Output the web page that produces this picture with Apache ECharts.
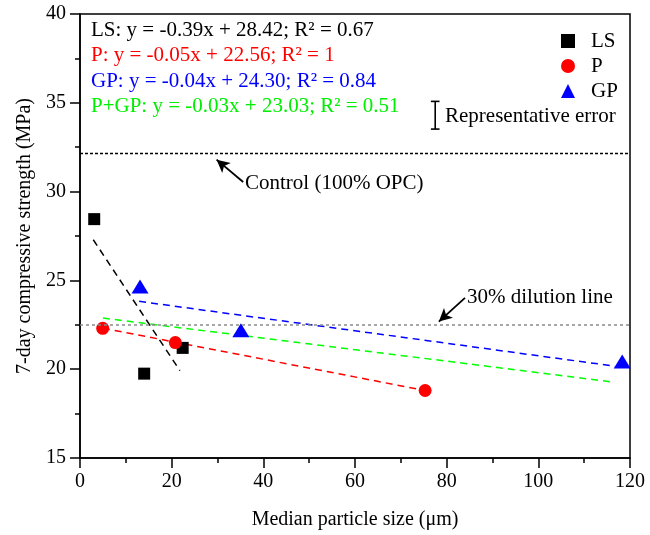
<!DOCTYPE html>
<html>
<head>
<meta charset="utf-8">
<script src="https://cdn.jsdelivr.net/npm/echarts@6/dist/echarts.min.js"></script>
<style>
  html, body { margin: 0; padding: 0; background: #fff; }
  #chart { width: 650px; height: 535px; }
</style>
</head>
<body>
<div id="chart"></div>
<script>
// Measured 7-day strengths vs. median particle size
const lsX = [3.1, 14.0, 22.4];
const lsY = [28.45, 19.75, 21.2];
const pX = [4.95, 20.8, 75.3];
const pY = [22.3, 21.5, 18.8];
const gpX = [13.1, 35.1, 118.3];
const gpY = [24.65, 22.2, 20.43];

// Linear-fit segments (start/end of each fitted range)
const lsFitX = [2.9, 21.8];
const lsFitY = [27.29, 19.92];
const pFitX = [5.0, 75.3];
const pFitY = [22.31, 18.80];
const gpFitX = [12.9, 116.7];
const gpFitY = [23.82, 20.17];
const pgpFitX = [5.0, 115.6];
const pgpFitY = [22.88, 19.30];

// Reference levels
const controlY = 32.15;   // 100% OPC
const dilutionY = 22.5;   // 30% dilution

// Representative error bar: x, centre, half-range
const errBar = [77.5, 34.3, 0.78];

// Fit equations
const eqTexts = [
  'LS: y = -0.39x + 28.42; R\u00B2 = 0.67',
  'P: y = -0.05x + 22.56; R\u00B2 = 1',
  'GP: y = -0.04x + 24.30; R\u00B2 = 0.84',
  'P+GP: y = -0.03x + 23.03; R\u00B2 = 0.51'
];
const eqColors = ['#000000', '#ff0000', '#0000ff', '#00ee00'];

const FONT = '"Liberation Serif", "Times New Roman", serif';

const zip = (xs, ys) => xs.map((x, i) => [x, ys[i]]);

const chart = echarts.init(document.getElementById('chart'), null, { renderer: 'canvas' });

function fitSeries(name, xs, ys, color) {
  return {
    name: name,
    type: 'line',
    data: zip(xs, ys),
    showSymbol: false,
    symbol: 'none',
    silent: true,
    z: 2,
    lineStyle: { color: color, width: 1.5, type: [7, 5] }
  };
}

const option = {
  backgroundColor: '#ffffff',
  animation: false,
  textStyle: { fontFamily: FONT },
  grid: {
    left: 80, right: 20, top: 14, bottom: 76,
    show: true, borderColor: '#000', borderWidth: 1.5, backgroundColor: 'transparent'
  },
  legend: {
    data: [
      { name: 'LS', icon: 'rect' },
      { name: 'P', icon: 'circle' },
      { name: 'GP', icon: 'triangle' }
    ],
    orient: 'vertical',
    left: 556,
    top: 25.5,
    itemWidth: 14,
    itemHeight: 14,
    itemGap: 4,
    textStyle: { fontFamily: FONT, fontSize: 21, color: '#000', padding: [0, 0, 0, 11], lineHeight: 21 }
  },
  xAxis: {
    type: 'value',
    min: 0, max: 120, interval: 20,
    name: 'Median particle size (\u03BCm)',
    nameLocation: 'middle',
    nameGap: 52,
    nameTextStyle: { fontFamily: FONT, fontSize: 20, color: '#000' },
    axisLine: { show: true, lineStyle: { color: '#000', width: 1.5 } },
    axisTick: { show: true, inside: false, length: 10, lineStyle: { color: '#000', width: 1.5 } },
    minorTick: { show: true, splitNumber: 2, length: 5, lineStyle: { color: '#000', width: 1.5 } },
    axisLabel: { fontFamily: FONT, fontSize: 20, color: '#000', margin: 14 },
    splitLine: { show: false }
  },
  yAxis: {
    type: 'value',
    min: 15, max: 40, interval: 5,
    name: '7-day compressive strength (MPa)',
    nameLocation: 'middle',
    nameGap: 45,
    nameTextStyle: { fontFamily: FONT, fontSize: 20, color: '#000' },
    axisLine: { show: true, lineStyle: { color: '#000', width: 1.5 } },
    axisTick: { show: true, inside: false, length: 10, lineStyle: { color: '#000', width: 1.5 } },
    minorTick: { show: true, splitNumber: 2, length: 5, lineStyle: { color: '#000', width: 1.5 } },
    axisLabel: { fontFamily: FONT, fontSize: 20, color: '#000', margin: 14 },
    splitLine: { show: false }
  },
  series: [
    // reference levels
    {
      name: 'reference',
      type: 'line',
      data: [],
      silent: true,
      z: 1,
      markLine: {
        silent: true,
        symbol: ['none', 'none'],
        label: { show: false },
        data: [
          { yAxis: controlY, lineStyle: { color: '#000', width: 1.3, type: [3, 2] } },
          { yAxis: dilutionY, lineStyle: { color: '#8a8a8a', width: 1.5, type: [3, 3] } }
        ]
      }
    },
    // annotation arrows
    {
      name: 'arrows',
      type: 'line',
      data: [],
      silent: true,
      z: 5,
      markLine: {
        silent: true,
        symbol: ['none', 'arrow'],
        symbolSize: [10, 13],
        label: { show: false },
        lineStyle: { color: '#000', width: 1.8, type: 'solid' },
        data: [
          [{ coord: [35.6, 30.54] }, { coord: [29.8, 31.8] }],
          [{ coord: [84.0, 24.02] }, { coord: [78.3, 22.68] }]
        ]
      }
    },
    fitSeries('LS fit', lsFitX, lsFitY, '#000000'),
    fitSeries('P fit', pFitX, pFitY, '#ff0000'),
    fitSeries('GP fit', gpFitX, gpFitY, '#0000ff'),
    fitSeries('P+GP fit', pgpFitX, pgpFitY, '#00ff00'),
    {
      name: 'LS',
      type: 'scatter',
      data: zip(lsX, lsY),
      symbol: 'rect',
      symbolSize: 12,
      z: 3,
      itemStyle: { color: '#000000', opacity: 1 }
    },
    {
      name: 'P',
      type: 'scatter',
      data: zip(pX, pY),
      symbol: 'circle',
      symbolSize: 13,
      z: 3,
      itemStyle: { color: '#ff0000', opacity: 1 }
    },
    {
      name: 'GP',
      type: 'scatter',
      data: zip(gpX, gpY),
      symbol: 'triangle',
      symbolSize: [17, 14],
      z: 3,
      itemStyle: { color: '#0000ff', opacity: 1 }
    },
    // representative error bar
    {
      name: 'error',
      type: 'custom',
      silent: true,
      z: 4,
      data: [errBar],
      renderItem: function (params, api) {
        const top = api.coord([api.value(0), api.value(1) + api.value(2)]);
        const bot = api.coord([api.value(0), api.value(1) - api.value(2)]);
        const cap = 4.3;
        const st = { stroke: '#000', lineWidth: 1.6 };
        return {
          type: 'group',
          children: [
            { type: 'line', shape: { x1: top[0], y1: top[1], x2: bot[0], y2: bot[1] }, style: st },
            { type: 'line', shape: { x1: top[0] - cap, y1: top[1], x2: top[0] + cap, y2: top[1] }, style: st },
            { type: 'line', shape: { x1: bot[0] - cap, y1: bot[1], x2: bot[0] + cap, y2: bot[1] }, style: st }
          ]
        };
      }
    }
  ],
  graphic: eqTexts.map((t, i) => ({
    type: 'text',
    x: 91,
    y: 30 + i * 25.6,
    z: 10,
    style: {
      text: t,
      fill: eqColors[i],
      font: '21px ' + FONT,
      verticalAlign: 'middle',
      align: 'left'
    }
  })).concat([
    {
      type: 'text', x: 445, y: 116.5, z: 10,
      style: { text: 'Representative error', fill: '#000', font: '21px ' + FONT, verticalAlign: 'middle', align: 'left' }
    },
    {
      type: 'text', x: 245, y: 183.5, z: 10,
      style: { text: 'Control (100% OPC)', fill: '#000', font: '21px ' + FONT, verticalAlign: 'middle', align: 'left' }
    },
    {
      type: 'text', x: 467, y: 297, z: 10,
      style: { text: '30% dilution line', fill: '#000', font: '21px ' + FONT, verticalAlign: 'middle', align: 'left' }
    }
  ])
};

chart.setOption(option);
</script>
</body>
</html>
